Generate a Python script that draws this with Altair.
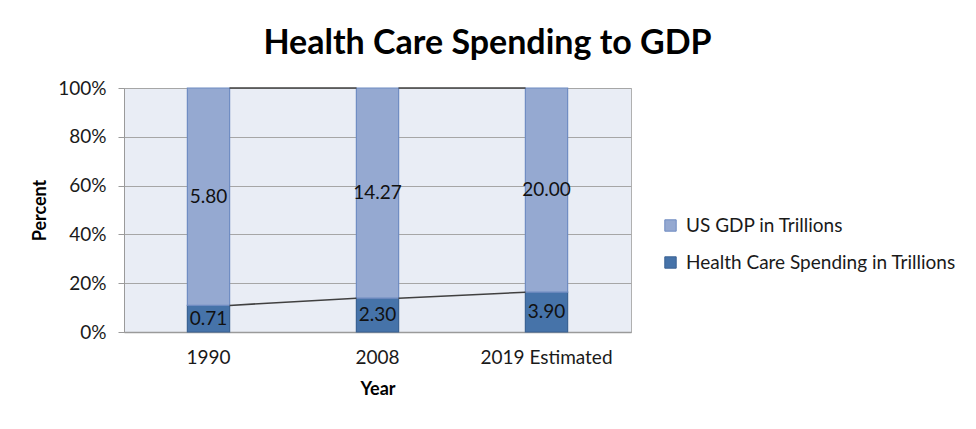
import altair as alt
import pandas as pd

years = ["1990", "2008", "2019 Estimated"]
gdp = [5.80, 14.27, 20.00]
health = [0.71, 2.30, 3.90]
series_names = ["US GDP in Trillions", "Health Care Spending in Trillions"]
colors = ["#95A9D1", "#4673A9"]
strokes = ["#6F8CC2", "#3A6293"]

FONT = "Lato"

rows = []
for i, y in enumerate(years):
    rows.append({"year": y, "series": series_names[1], "value": health[i], "ord": 0})
    rows.append({"year": y, "series": series_names[0], "value": gdp[i], "ord": 1})
df = pd.DataFrame(rows)

# label positions (segment centers as fractions)
lab = []
for i, y in enumerate(years):
    tot = gdp[i] + health[i]
    h = health[i] / tot
    lab.append({"year": y, "txt": f"{health[i]:.2f}", "pos": h / 2})
    lab.append({"year": y, "txt": f"{gdp[i]:.2f}", "pos": (h + 1) / 2})
lab_df = pd.DataFrame(lab)

# series lines
sl = []
for i in range(len(years) - 1):
    h0 = health[i] / (gdp[i] + health[i])
    h1 = health[i + 1] / (gdp[i + 1] + health[i + 1])
    sl.append({"year": years[i], "year2": years[i + 1], "p": h0, "p2": h1})
    sl.append({"year": years[i], "year2": years[i + 1], "p": 1.0, "p2": 1.0})
sl_df = pd.DataFrame(sl)

xscale = alt.Scale(domain=years, paddingInner=0.75, paddingOuter=0.375)
yscale = alt.Scale(domain=[0, 1])

xenc = alt.X(
    "year:N", scale=xscale, sort=years,
    axis=alt.Axis(title="Year", labelAngle=0, ticks=False, labelPadding=16,
                  labelFontSize=19, labelFont=FONT, labelColor="#1a1a1a",
                  titleFont=FONT, titleFontSize=18, titleFontWeight="bold",
                  titleColor="#000000", titleY=57, titleBaseline="middle",
                  domainColor="#9a9a9a", domainWidth=1.5, grid=False),
)

bars = alt.Chart(df).mark_bar(strokeWidth=1.2).encode(
    x=xenc,
    y=alt.Y("value:Q", stack="normalize", scale=yscale,
            axis=alt.Axis(title="Percent", format=".0%", values=[0, 0.2, 0.4, 0.6, 0.8, 1.0],
                          labelFontSize=19, labelFont=FONT, labelColor="#1a1a1a",
                          labelPadding=12, tickSize=6, tickColor="#9a9a9a",
                          domainColor="#9a9a9a", gridColor="#a6a6a6", gridWidth=1,
                          titleFont=FONT, titleFontSize=18, titleFontWeight="bold",
                          titleColor="#000000", titleX=-84, titleY=122,
                          titleBaseline="middle", titleAlign="center")),
    color=alt.Color("series:N", scale=alt.Scale(domain=series_names, range=colors),
                    legend=alt.Legend(title=None, orient="none", legendX=537, legendY=128,
                                      symbolType="square", symbolSize=130,
                                      symbolStrokeColor="#5a7fb8", symbolStrokeWidth=1,
                                      labelFont=FONT, labelFontSize=19, labelColor="#1a1a1a",
                                      labelLimit=400, rowPadding=17, labelOffset=6)),
    stroke=alt.Stroke("series:N", scale=alt.Scale(domain=series_names, range=strokes), legend=None),
    order=alt.Order("ord:Q"),
)

lines = alt.Chart(sl_df).mark_rule(color="#404040", strokeWidth=1.5,
                                   xOffset=21, x2Offset=-21).encode(
    x=alt.X("year:N", scale=xscale, sort=years),
    x2="year2:N",
    y=alt.Y("p:Q", scale=yscale),
    y2="p2:Q",
)

labels = alt.Chart(lab_df).mark_text(font=FONT, fontSize=19, color="#111111",
                                     baseline="middle").encode(
    x=alt.X("year:N", scale=xscale, sort=years),
    y=alt.Y("pos:Q", scale=yscale),
    text="txt:N",
)

chart = alt.layer(bars, lines, labels).properties(
    width=507, height=244,
    view=alt.ViewBackground(fill="#E9EDF5", stroke="#b0b0b0", strokeWidth=1),
    title=alt.TitleParams("Health Care Spending to GDP", font=FONT, fontSize=34,
                          fontWeight="bold", color="#000000", anchor="middle",
                          dx=110, offset=18),
    autosize=alt.AutoSizeParams(type="none"),
    padding={"left": 116, "top": 80, "right": 337, "bottom": 89},
).configure(background="#ffffff")

chart.save("out.html", embed_options={"renderer": "svg", "actions": False})
